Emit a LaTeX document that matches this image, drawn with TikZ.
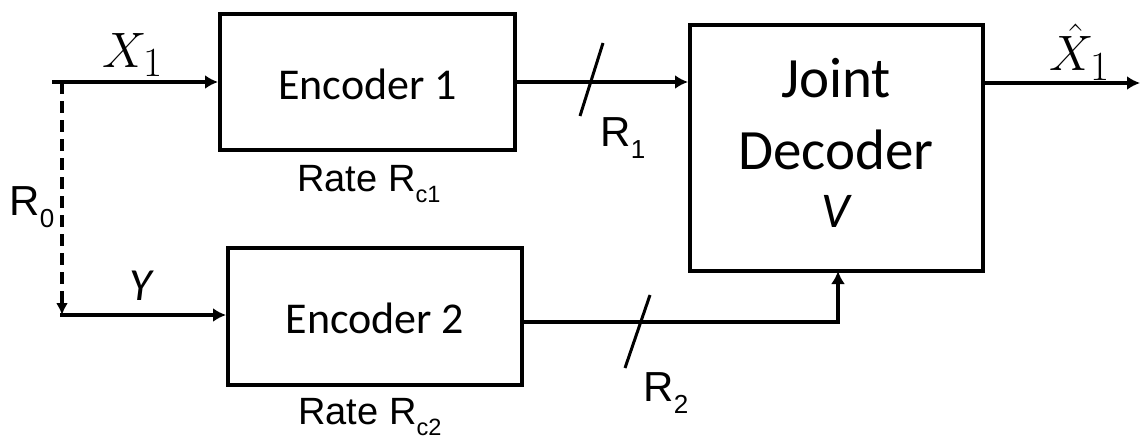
\documentclass[tikz,border=0pt]{standalone}
\usepackage{fontspec}
\setmainfont{Carlito}
\newfontfamily\arialfont{Liberation Sans}
\usetikzlibrary{arrows.meta}
\newcommand{\asub}[2]{{\arialfont #1\raisebox{-0.28em}{\fontsize{0.62em}{0.7em}\selectfont #2}}}
\begin{document}
\begin{tikzpicture}[x=1pt,y=-1pt,
  blk/.style={draw,line width=4pt,inner sep=0pt},
  conn/.style={line width=4pt,-{Latex[length=13pt,width=14pt]}},
  slash/.style={line width=3pt},
  lbl/.style={inner sep=0pt,font=\fontsize{44}{48}\selectfont},
  rlbl/.style={inner sep=0pt,font=\arialfont\fontsize{42}{46}\selectfont},
  rate/.style={inner sep=0pt,font=\arialfont\fontsize{38}{42}\selectfont},
  mlbl/.style={inner sep=0pt,font=\Huge,scale=2.0}]
\useasboundingbox (0,0) rectangle (1140,444);
\node[blk,minimum width=295pt,minimum height=136pt] (enc1) at (367.5,82) {};
\node[blk,minimum width=294pt,minimum height=137pt] (enc2) at (375,316.5) {};
\node[blk,minimum width=293pt,minimum height=246pt] (dec) at (836.5,148) {};
\node[lbl] (e1t) at (367.5,84) {Encoder 1};
\node[lbl] (e2t) at (375,318) {Encoder 2};
\node[lbl,font=\fontsize{57}{60}\selectfont] (jt) at (836,78) {Joint};
\node[lbl,font=\fontsize{57}{60}\selectfont] (dt) at (836,150) {Decoder};
\node[lbl,font=\itshape\fontsize{50}{54}\selectfont] (vt) at (836,211) {V};
\coordinate (x1s) at (52,82);
\coordinate (ys) at (60,315);
\coordinate (ds) at (62,82);
\coordinate (de) at (62,315);
\coordinate (out) at (1140,83);
\draw[conn] (x1s) -- (enc1.west);
\draw[conn] (ys) -- (enc2.west |- ys);
\draw[line width=3.5pt,dash pattern=on 12pt off 7pt,-{Latex[length=12pt,width=12pt]}] (ds) -- (de);
\draw[conn] (enc1.east) -- (enc1.east -| dec.west);
\draw[conn] (enc2.east |- 0,322) -| (838,271);
\draw[conn] (dec.east |- out) -- (out);
\draw[slash] (580,116) -- (603,43);
\draw[slash] (625,368) -- (650,295);
\node[mlbl] (x1l) at (133,55) {$X_1$};
\node[mlbl] (xhl) at (1080,52) {$\hat{X}_1$};
\node[lbl,font=\itshape\fontsize{46}{50}\selectfont] (yl) at (141,286) {Y};
\node[rlbl] (r0) at (32,207) {\asub{R}{0}};
\node[rlbl] (r1) at (623,138) {\asub{R}{1}};
\node[rlbl] (r2) at (666,393) {\asub{R}{2}};
\node[rate] (rc1) at (369,184) {Rate \asub{R}{c1}};
\node[rate] (rc2) at (370,417) {Rate \asub{R}{c2}};
\end{tikzpicture}
\end{document}
